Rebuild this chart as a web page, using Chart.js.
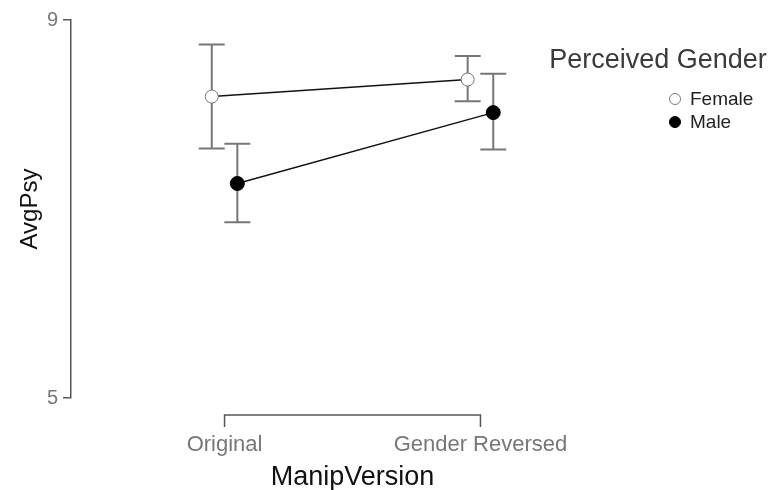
<!DOCTYPE html>
<html>
<head>
<meta charset="utf-8">
<script src="https://cdn.jsdelivr.net/npm/chart.js@4/dist/chart.umd.min.js"></script>
<style>
  html, body { margin: 0; padding: 0; background: #fff; }
  #wrap { width: 773px; height: 490px; }
</style>
</head>
<body>
<div id="wrap"><canvas id="plot"></canvas></div>
<script>
// --- data ---
const categories = ['Original', 'Gender Reversed'];
const yTicks = [5, 9];
const groups = ['Female', 'Male'];
const femaleMean  = [8.19, 8.37];
const femaleLower = [7.64, 8.14];
const femaleUpper = [8.74, 8.62];
const maleMean  = [7.27, 8.02];
const maleLower = [6.86, 7.63];
const maleUpper = [7.69, 8.43];
const dodge = 0.05; // small shift so the two groups don't overlap

const FONT = "'Liberation Sans', Arial, sans-serif";
Chart.defaults.font.family = FONT;

function toPoints(values, shift) {
  return values.map((v, i) => ({ x: i + shift, y: v }));
}

// error bars (drawn under the points)
const errorBars = {
  id: 'errorBars',
  beforeDatasetsDraw(chart) {
    const ctx = chart.ctx;
    const ys = chart.scales.y;
    chart.data.datasets.forEach((ds, di) => {
      const meta = chart.getDatasetMeta(di);
      ctx.save();
      ctx.strokeStyle = '#777';
      ctx.lineWidth = 2;
      meta.data.forEach((pt, i) => {
        const top = ys.getPixelForValue(ds.upper[i]);
        const bot = ys.getPixelForValue(ds.lower[i]);
        ctx.beginPath();
        ctx.moveTo(pt.x, top); ctx.lineTo(pt.x, bot);
        ctx.moveTo(pt.x - 13, top); ctx.lineTo(pt.x + 13, top);
        ctx.moveTo(pt.x - 13, bot); ctx.lineTo(pt.x + 13, bot);
        ctx.stroke();
      });
      ctx.restore();
    });
  }
};

// bracket-style x axis between the two categories
const xBracket = {
  id: 'xBracket',
  afterDraw(chart) {
    const ctx = chart.ctx;
    const xs = chart.scales.x;
    const p0 = xs.getPixelForValue(0);
    const p1 = xs.getPixelForValue(categories.length - 1);
    const y = chart.chartArea.bottom + 17;
    ctx.save();
    ctx.strokeStyle = '#555';
    ctx.lineWidth = 1.5;
    ctx.beginPath();
    ctx.moveTo(p0, y + 12); ctx.lineTo(p0, y); ctx.lineTo(p1, y); ctx.lineTo(p1, y + 12);
    ctx.stroke();
    ctx.restore();
  }
};

// legend on the right with its title
const sideLegend = {
  id: 'sideLegend',
  afterDraw(chart) {
    const ctx = chart.ctx;
    ctx.save();
    ctx.textBaseline = 'middle';
    ctx.textAlign = 'center';
    ctx.fillStyle = '#3a3a3a';
    ctx.font = '27px ' + FONT;
    ctx.fillText('Perceived Gender', 658, 61);
    ctx.textAlign = 'left';
    ctx.font = '19px ' + FONT;
    chart.data.datasets.forEach((ds, i) => {
      const cy = 99 + i * 23;
      ctx.beginPath();
      ctx.arc(675, cy, 5.5, 0, Math.PI * 2);
      ctx.fillStyle = ds.pointBackgroundColor;
      ctx.fill();
      ctx.lineWidth = 1;
      ctx.strokeStyle = ds.pointBorderColor;
      ctx.stroke();
      ctx.fillStyle = '#222';
      ctx.fillText(ds.label, 690, cy + 1);
    });
    ctx.restore();
  }
};

new Chart(document.getElementById('plot'), {
  type: 'line',
  data: {
    datasets: [
      {
        label: groups[0],
        data: toPoints(femaleMean, -dodge),
        lower: femaleLower,
        upper: femaleUpper,
        borderColor: '#111',
        borderWidth: 1.5,
        pointBackgroundColor: '#fff',
        pointBorderColor: '#777',
        pointBorderWidth: 1,
        pointRadius: 6.5,
        pointHoverRadius: 6.5
      },
      {
        label: groups[1],
        data: toPoints(maleMean, dodge),
        lower: maleLower,
        upper: maleUpper,
        borderColor: '#111',
        borderWidth: 1.5,
        pointBackgroundColor: '#000',
        pointBorderColor: '#000',
        pointBorderWidth: 1,
        pointRadius: 7,
        pointHoverRadius: 7
      }
    ]
  },
  options: {
    responsive: true,
    maintainAspectRatio: false,
    animation: false,
    layout: { padding: { top: 20, right: 139, left: 0, bottom: 0 } },
    plugins: { legend: { display: false }, tooltip: { enabled: false } },
    scales: {
      x: {
        type: 'linear',
        min: -0.6,
        max: 1.6,
        afterBuildTicks: s => { s.ticks = categories.map((c, i) => ({ value: i })); },
        afterFit: s => { s.height = 92; },
        grid: { display: true, drawOnChartArea: false, drawTicks: false, color: 'rgba(0,0,0,0)' },
        border: { display: false },
        ticks: {
          callback: v => categories[v],
          color: '#777',
          font: { size: 22 },
          padding: 34,
          maxRotation: 0,
          autoSkip: false
        },
        title: { display: true, text: 'ManipVersion', color: '#111', font: { size: 27 }, padding: { top: 0, bottom: -4 } }
      },
      y: {
        min: 5,
        max: 9,
        afterBuildTicks: s => { s.ticks = yTicks.map(v => ({ value: v })); },
        afterFit: s => { s.width = 71; },
        grid: { drawOnChartArea: false, drawTicks: true, tickLength: 8, color: '#555', lineWidth: 1.5 },
        border: { display: true, color: '#555', width: 1.5 },
        ticks: { color: '#777', font: { size: 20 }, padding: 5 },
        title: { display: true, text: 'AvgPsy', color: '#111', font: { size: 24 }, padding: { top: 16, bottom: 0 } }
      }
    }
  },
  plugins: [errorBars, xBracket, sideLegend]
});
</script>
</body>
</html>
